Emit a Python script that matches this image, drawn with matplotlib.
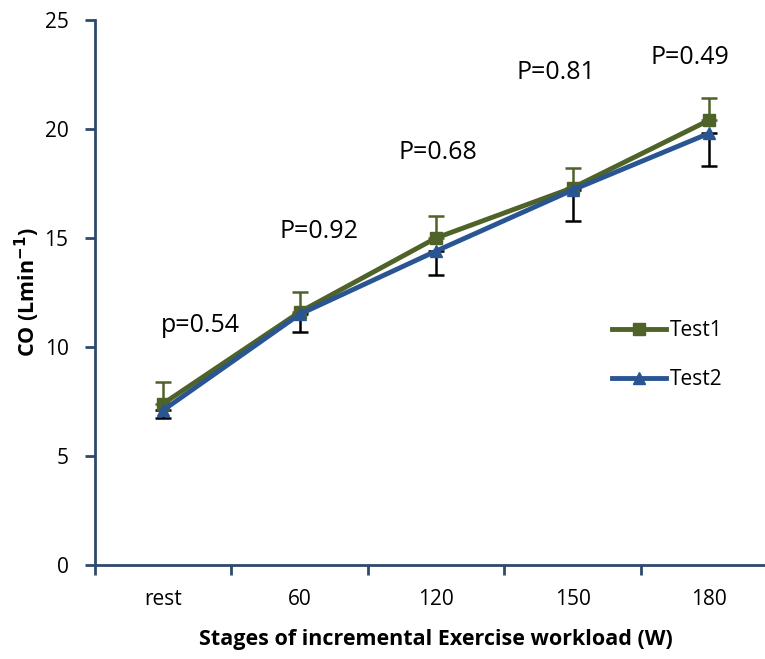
import matplotlib.pyplot as plt
import numpy as np

plt.rcParams['font.family'] = ['Open Sans', 'DejaVu Sans']

stages = ['rest', '60', '120', '150', '180']
test1 = [7.4, 11.6, 15.0, 17.3, 20.4]
test1_err_up = [1.0, 0.9, 1.0, 0.9, 1.0]
test2 = [7.1, 11.5, 14.4, 17.2, 19.8]
test2_err_down = [0.35, 0.8, 1.1, 1.4, 1.5]
p_labels = ['p=0.54', 'P=0.92', 'P=0.68', 'P=0.81', 'P=0.49']
p_label_y = [11.0, 15.3, 18.9, 22.6, 23.3]
p_label_dx = [0.27, 0.14, 0.01, -0.12, -0.14]

green = '#4F6228'
blue = '#2A5593'
axis_col = '#2E4A6B'

x = np.arange(len(stages))

fig = plt.figure(figsize=(7.65, 6.59), dpi=100)
ax = fig.add_axes([0.124, 0.1426, 0.892, 0.8271])

ax.errorbar(x, test1, yerr=[np.zeros(5), test1_err_up], fmt='none',
            ecolor=green, elinewidth=1.8, capsize=6, capthick=1.8, zorder=2)
ax.errorbar(x, test2, yerr=[test2_err_down, np.zeros(5)], fmt='none',
            ecolor='black', elinewidth=1.8, capsize=6, capthick=1.8, zorder=2)
ax.plot(x, test1, color=green, lw=3.5, marker='s', ms=8, label='Test1', zorder=3)
ax.plot(x, test2, color=blue, lw=3.5, marker='^', ms=9, label='Test2', zorder=4)

for xi, lab, yy, dx in zip(x, p_labels, p_label_y, p_label_dx):
    ax.text(xi + dx, yy, lab, fontsize=18, ha='center', va='center')

ax.set_xlim(-0.5, 4.5)
ax.set_ylim(0, 25)
ax.set_yticks([0, 5, 10, 15, 20, 25])
ax.set_xticks(x)
ax.set_xticklabels(stages)
ax.set_xticks(np.arange(-0.5, 5, 1), minor=True)
ax.tick_params(axis='x', which='major', length=0, pad=17, labelsize=15)
ax.tick_params(axis='x', which='minor', length=7, width=2, color=axis_col, direction='out')
ax.tick_params(axis='y', length=7, width=2, color=axis_col, direction='out', labelsize=15, pad=12)

for side in ['top', 'right']:
    ax.spines[side].set_visible(False)
for side in ['left', 'bottom']:
    ax.spines[side].set_color(axis_col)
    ax.spines[side].set_linewidth(2)

ax.set_ylabel('CO (Lmin$^{\\mathbf{-1}}$)', fontsize=15.5, fontweight='bold', labelpad=2)
ax.set_xlabel('Stages of incremental Exercise workload (W)', fontsize=15.5,
              fontweight='bold', labelpad=14)

ax.legend(loc='center left', bbox_to_anchor=(0.73, 0.385), frameon=False,
          fontsize=15, handlelength=2.6, labelspacing=1.35, handletextpad=0.2)

fig.savefig('out.png', dpi=100)
